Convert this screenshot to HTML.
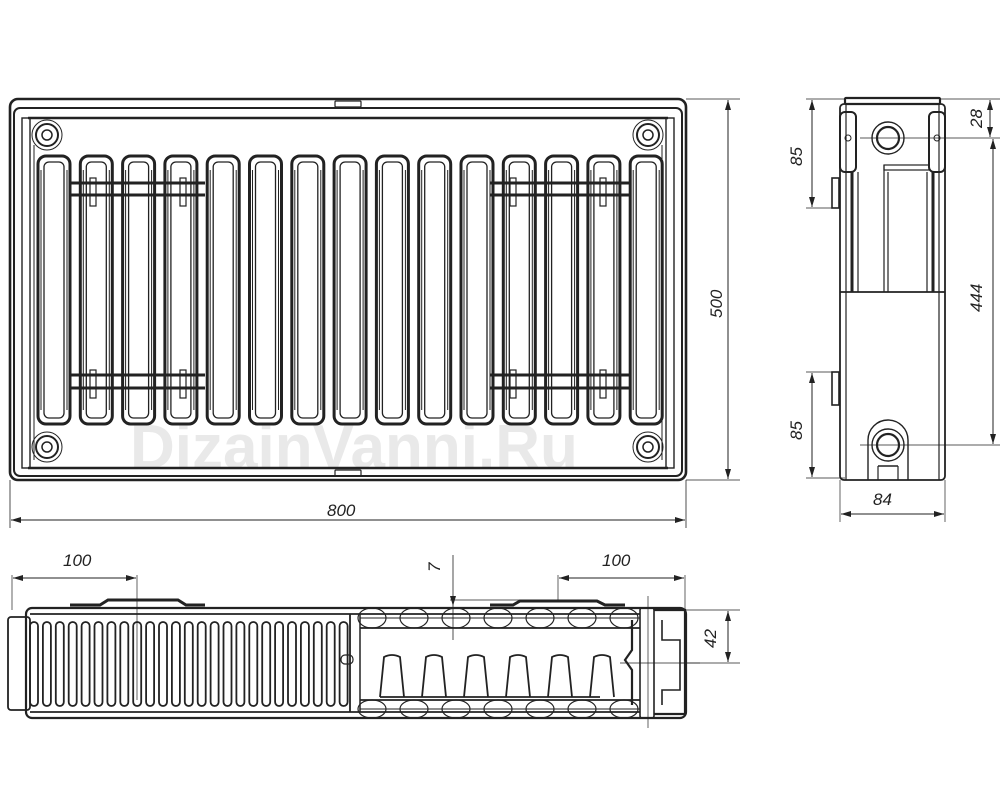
<!DOCTYPE html>
<html><head><meta charset="utf-8">
<style>html,body{margin:0;padding:0;background:#fff;width:1000px;height:800px;overflow:hidden}
svg{display:block}
text{font-family:"Liberation Sans",sans-serif;font-style:italic;fill:#222}
</style></head><body>
<svg id="s" width="1000" height="800" viewBox="0 0 1000 800" xmlns="http://www.w3.org/2000/svg">
<defs>
<marker id="a" viewBox="0 0 10 6" refX="10" refY="3" markerWidth="10" markerHeight="6" orient="auto-start-reverse" markerUnits="userSpaceOnUse"><path d="M0,0L10,3L0,6z" fill="#222"/></marker>
</defs>
<text x="130" y="468" font-size="62" font-weight="bold" style="font-style:normal;fill:#e9e9e9">DizainVanni.Ru</text>
<g id="g" fill="none" stroke="#222" stroke-width="1.5"></g>
<text x="327" y="516" font-size="17">800</text>
<text transform="translate(722,318) rotate(-90)" font-size="17">500</text>
<text transform="translate(982,128) rotate(-90)" font-size="17">28</text>
<text transform="translate(982,312) rotate(-90)" font-size="17">444</text>
<text transform="translate(802,166) rotate(-90)" font-size="17">85</text>
<text transform="translate(802,440) rotate(-90)" font-size="17">85</text>
<text x="873" y="505" font-size="17">84</text>
<text x="63" y="566" font-size="17">100</text>
<text x="602" y="566" font-size="17">100</text>
<text transform="translate(440,572) rotate(-90)" font-size="17">7</text>
<text transform="translate(716,648) rotate(-90)" font-size="17">42</text>
</svg>
<script>
var g=document.getElementById('g'),h='';
function R(x,y,w,ht,r,sw){h+='<rect x="'+x+'" y="'+y+'" width="'+w+'" height="'+ht+'" rx="'+(r||0)+'"'+(sw?' stroke-width="'+sw+'"':'')+'/>';}
function L(x1,y1,x2,y2,sw,extra){h+='<line x1="'+x1+'" y1="'+y1+'" x2="'+x2+'" y2="'+y2+'"'+(sw?' stroke-width="'+sw+'"':'')+(extra||'')+'/>';}
function C(x,y,r,sw){h+='<circle cx="'+x+'" cy="'+y+'" r="'+r+'"'+(sw?' stroke-width="'+sw+'"':'')+'/>';}
function D(x1,y1,x2,y2){L(x1,y1,x2,y2,1,' marker-start="url(#a)" marker-end="url(#a)"');}
// FRONT VIEW
R(10,99,676,381,8,2.6);R(14,108,668,368,6,2);
L(28,118,668,118,2.4);L(28,468,668,468,2.4);
R(22,118,8,350,0,1.4);R(666,118,8,350,0,1.4);
L(34,145,34,460,1);L(662,145,662,460,1);
R(335,101,26,6,1,1.2);R(335,470,26,6,1,1.2);
for(var i=0;i<15;i++){var x=38+i*42.3;R(x,156,32,268,8,3);R(x+6,162,20,256,5,1.3);L(x+3,170,x+3,410,1);L(x+29,170,x+29,410,1);}
[[47,135],[648,135],[47,447],[648,447]].forEach(function(p){C(p[0],p[1],15,1);C(p[0],p[1],11,2);C(p[0],p[1],5,1.5);});
[[70,205],[490,630]].forEach(function(s){[183,195,375,388].forEach(function(y){L(s[0],y,s[1],y,3);});
 [0,1].forEach(function(k){var xx=s[0]+(k?110:20);R(xx,178,6,28,0,1.2);R(xx,370,6,28,0,1.2);});});
// dims front
L(686,99,740,99,0.8);L(686,480,740,480,0.8);D(728,100,728,479);
L(10,480,10,528,0.8);L(686,480,686,528,0.8);D(11,520,685,520);
// SIDE VIEW
R(845,98,95,6,1,2.2);R(840,104,105,376,4,1.8);
L(846,104,846,480,1.2);L(939,104,939,480,1.2);
L(840,292,945,292,1.8);
R(840,112,16,60,5,2);R(929,112,16,60,5,2);
C(848,138,3,1);C(937,138,3,1);
L(852,172,852,292,3);L(858,172,858,292,1.2);L(933,172,933,292,3);L(927,172,927,292,1.2);
L(888,172,888,292,1.2);L(884,165,884,292,1.2);R(884,165,45,5,0,1.2);
C(888,138,16,1.4);C(888,138,11,2.2);
h+='<path d="M868,480 V440 a20,20 0 0 1 40,0 V480" stroke-width="1.4"/>';C(888,445,16,1.4);C(888,445,11,2.2);
L(878,466,898,466,1.4);L(878,466,878,480,1.2);L(898,466,898,480,1.2);
R(832,178,7,30,0,1.6);R(832,372,7,33,0,1.6);
L(860,138,1000,138,0.7);L(860,445,1000,445,0.7);
L(940,99,1000,99,0.7);D(990,100,990,137);D(993,139,993,444);
L(806,99,845,99,0.7);L(806,208,832,208,0.7);D(812,100,812,207);
L(806,372,832,372,0.7);L(806,478,845,478,0.7);D(812,373,812,477);
L(840,480,840,522,0.7);L(945,480,945,522,0.7);D(841,514,944,514);
// BOTTOM VIEW
R(8,617,22,93,3,1.8);R(26,608,660,110,6,2.2);
L(30,614,640,614,1.8);L(30,712,640,712,1.8);
h+='<path d="M70,605 L100,605 L108,600 L178,600 L186,605 L205,605" stroke-width="3"/>';
h+='<path d="M490,605 L513,605 L520,601 L597,601 L605,605 L625,605" stroke-width="3"/>';
for(var i=0;i<25;i++){var x=30+i*12.9;R(x,622,8,84,4,1.8);}
L(350,614,350,712,1.8);L(360,614,360,712,1.5);
[[608,628],[700,718]].forEach(function(b){L(360,b[0],640,b[0],1.8);L(360,b[1],640,b[1],1.8);L(360,(b[0]+b[1])/2,640,(b[0]+b[1])/2,1);
 for(var k=0;k<7;k++){h+='<ellipse cx="'+(372+k*42)+'" cy="'+(b[0]+b[1])/2+'" rx="14" ry="'+(b[1]-b[0])/2+'" stroke-width="1.2"/>';}});
for(var k=0;k<6;k+=1){var x=380+k*42;h+='<path d="M'+x+',697 L'+(x+4)+',657 Q'+(x+12)+',653 '+(x+20)+',657 L'+(x+24)+',697" stroke-width="1.8"/>';}
L(380,697,600,697,1.8);
R(341,655,12,9,4,1.2);
h+='<path d="M632,620 L632,650 L625,660 L632,670 L632,705" stroke-width="2.2"/>';
R(640,608,14,110,2,1.6);h+='<path d="M654,610 L685,610 L685,714 L654,714" stroke-width="2.2"/>';
h+='<path d="M662,620 V640 H680 V690 H662 V705" stroke-width="1.6"/>';
L(648,596,648,728,0.7);L(620,663,700,663,0.7);
// dims bottom
L(12,575,12,610,0.7);L(137,575,137,700,0.7);D(13,578,136,578);
L(558,575,558,600,0.7);L(685,575,685,612,0.7);D(559,578,684,578);
L(450,600,520,600,0.7);L(453,555,453,640,0.8);h+='<path d="M450,596 L453,606 L456,596z" fill="#222" stroke="none"/>';
L(660,610,740,610,0.7);L(680,663,740,663,0.7);D(728,611,728,662);
g.innerHTML=h;
</script>
</body></html>
